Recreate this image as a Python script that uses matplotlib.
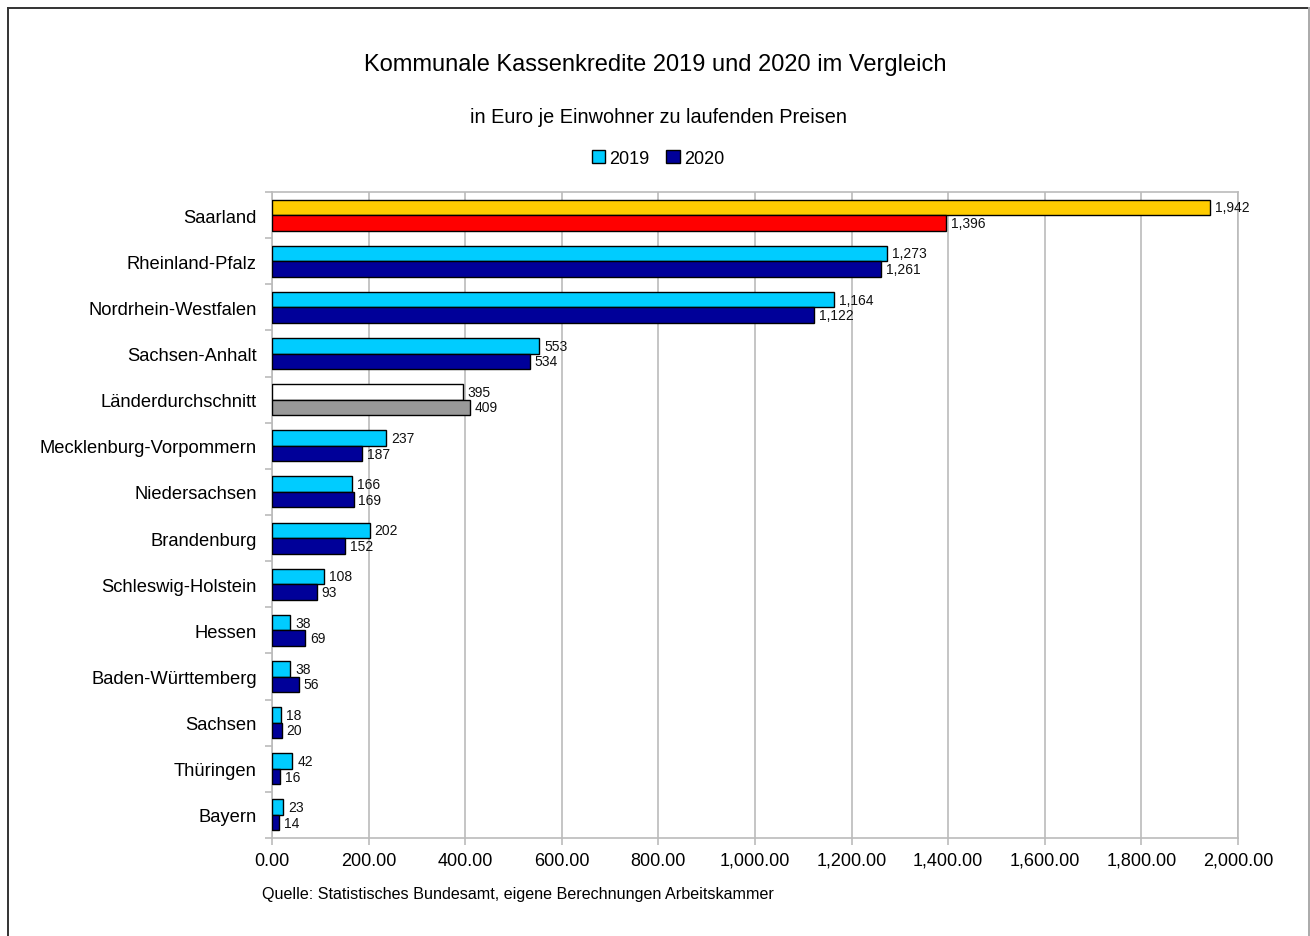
import matplotlib
matplotlib.use("Agg")
import matplotlib.pyplot as plt
from matplotlib.patches import Patch
from matplotlib.lines import Line2D
import numpy as np

plt.rcParams['font.family'] = ['Liberation Sans', 'DejaVu Sans']

# Data: municipal cash credits, euro per inhabitant
laender = ["Saarland", "Rheinland-Pfalz", "Nordrhein-Westfalen", "Sachsen-Anhalt",
           "Länderdurchschnitt", "Mecklenburg-Vorpommern", "Niedersachsen",
           "Brandenburg", "Schleswig-Holstein", "Hessen", "Baden-Württemberg",
           "Sachsen", "Thüringen", "Bayern"]
werte_2019 = [1942, 1273, 1164, 553, 395, 237, 166, 202, 108, 38, 38, 18, 42, 23]
werte_2020 = [1396, 1261, 1122, 534, 409, 187, 169, 152, 93, 69, 56, 20, 16, 14]
x_ticks = [0, 200, 400, 600, 800, 1000, 1200, 1400, 1600, 1800, 2000]

# Colours per bar (Saarland and the average are highlighted)
farbe_2019 = "#00CCFF"
farbe_2020 = "#000099"
farben_2019 = [farbe_2019] * len(laender)
farben_2020 = [farbe_2020] * len(laender)
farben_2019[0], farben_2020[0] = "#FFCC00", "#FF0000"
farben_2019[4], farben_2020[4] = "#FFFFFF", "#999999"

W, H = 1310, 937
fig = plt.figure(figsize=(W / 100, H / 100), dpi=100)
ax = fig.add_axes([272 / W, 1 - 839 / H, (1238 - 272) / W, (839 - 193) / H])

grid_col = "#BBBBBB"
y = np.arange(len(laender))
h = 0.336

b19 = ax.barh(y - h / 2, werte_2019, height=h, color=farben_2019,
              edgecolor="black", linewidth=1.0, zorder=3)
b20 = ax.barh(y + h / 2, werte_2020, height=h, color=farben_2020,
              edgecolor="black", linewidth=1.0, zorder=3)

for bars, vals in ((b19, werte_2019), (b20, werte_2020)):
    for rect, v in zip(bars, vals):
        ax.annotate(f"{v:,}", xy=(rect.get_width(), rect.get_y() + rect.get_height() / 2),
                    xytext=(3.5, 0), textcoords="offset points",
                    ha="left", va="center", fontsize=10, color="#111111", zorder=4)

ax.set_xlim(0, 2000)
ax.set_ylim(len(laender) - 0.5, -0.5)

ax.set_xticks(x_ticks)
ax.set_xticklabels([f"{t:,.2f}" for t in x_ticks], fontsize=13)
ax.set_yticks(y)
ax.set_yticklabels(laender, fontsize=13.2)
ax.set_yticks(np.arange(len(laender) + 1) - 0.5, minor=True)

ax.tick_params(axis="y", which="major", length=0, pad=11)
ax.tick_params(axis="y", which="minor", length=5, width=1.2, color=grid_col)
ax.tick_params(axis="x", which="major", length=5, width=1.2, color=grid_col, pad=5)

ax.grid(axis="x", color=grid_col, linewidth=1.2, zorder=0)
ax.set_axisbelow(True)
for s in ax.spines.values():
    s.set_color(grid_col)
    s.set_linewidth(1.2)

# Titles
fig.text(655 / W, 1 - 65 / H, "Kommunale Kassenkredite 2019 und 2020 im Vergleich",
         ha="center", va="center", fontsize=17)
fig.text(658 / W, 1 - 118 / H, "in Euro je Einwohner zu laufenden Preisen",
         ha="center", va="center", fontsize=14.3)

handles = [Patch(facecolor=farbe_2019, edgecolor="black", linewidth=1.0),
           Patch(facecolor=farbe_2020, edgecolor="black", linewidth=1.0)]
fig.legend(handles, ["2019", "2020"], loc="center", bbox_to_anchor=(658 / W, 1 - 159 / H),
           ncol=2, frameon=False, fontsize=13, handlelength=0.75, handleheight=0.75,
           handletextpad=0.25, columnspacing=0.9)

fig.text(262 / W, 1 - 895 / H,
         "Quelle: Statistisches Bundesamt, eigene Berechnungen Arbeitskammer",
         ha="left", va="center", fontsize=11.6)

# Outer frame
fig.add_artist(Line2D([7.5 / W, 7.5 / W], [0, 1 - 8.5 / H], color="#333333", lw=1.4))
fig.add_artist(Line2D([7.5 / W, 1309 / W], [1 - 8.5 / H, 1 - 8.5 / H], color="#333333", lw=1.4))
fig.add_artist(Line2D([1308.5 / W, 1308.5 / W], [0, 1 - 8.5 / H], color="#AAAAAA", lw=1.4))

fig.savefig("out.png", dpi=100)
